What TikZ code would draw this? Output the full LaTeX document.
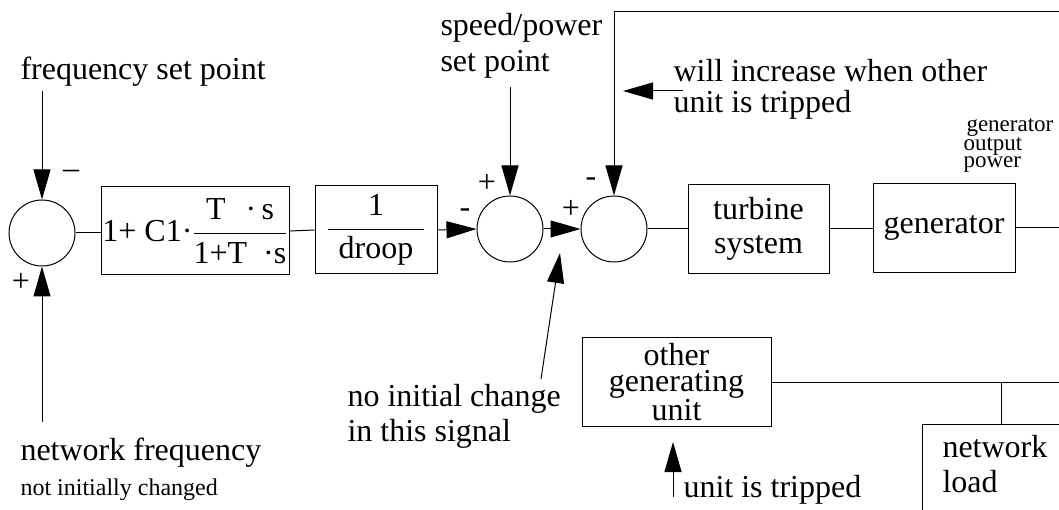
\RequirePackage{fix-cm}
\documentclass[tikz,border=0pt]{standalone}
\usepackage{fontspec}
\setmainfont{Liberation Serif}
\usepackage{tikz}
\usetikzlibrary{arrows.meta, positioning, calc}

\tikzset{
  blk/.style={draw, line width=1pt, minimum width=#1, minimum height=89pt, inner sep=0pt, align=center},
  blk/.default=141pt,
  sumpt/.style={draw, circle, line width=1pt, minimum size=66pt, inner sep=0pt},
  sig/.style={-{Triangle[length=30pt,width=17pt]}, line width=1pt},
  lbl/.style={anchor=base west, inner sep=0pt, align=left},
  sml/.style={anchor=base west, inner sep=0pt, align=left, font=\fontsize{23}{17.5}\selectfont},
}

\begin{document}
\begin{tikzpicture}[x=1pt, y=-1pt, line width=1pt, font=\fontsize{32}{36}\selectfont]
  \useasboundingbox (0,0) rectangle (1059,510);
  \clip (0,0) rectangle (1059,510);
  % Sommateurs
  \node[sumpt] (sum1) at (42,233) {};
  \node[sumpt] (sum2) at (510,229) {};
  \node[sumpt] (sum3) at (614,229) {};
  % Blocs
  \node[blk=188pt, minimum height=88pt] (lead) at (195,231)
    {1+ C1·$\displaystyle\frac{\mbox{T\hspace{20pt}·\,s}}{\mbox{1+T\hspace{16pt}·s}}$};
  \node[blk=122pt, minimum height=88pt] (droop) at (376,230)
    {$\displaystyle\frac{\mbox{1}}{\mbox{\hspace{11pt}droop\hspace{11pt}}}$};
  \node[blk, font=\fontsize{32}{34}\selectfont] (turb) at (758.5,229) {turbine\\system};
  \node[blk=142pt] (gen) at (944,228) {generator};
  \node[blk=189pt, font=\fontsize{32}{25.5}\selectfont] (other) at (676.5,382) {other\\generating\\unit};
  \node[draw, anchor=north west, minimum width=200pt, minimum height=120pt, inner sep=0pt] (load) at (922,424) {};
  % Textes (base = derniere ligne)
  \node[lbl] (fsp) at (20,80) {frequency set point};
  \node[lbl] (nf) at (20,460) {network frequency};
  \node[sml, font=\fontsize{24}{24}\selectfont] (nfc) at (20,495) {not initially changed};
  \node[lbl] (spsp) at (440,72) {speed/power\\set point};
  \node[lbl, font=\fontsize{32}{31}\selectfont] (wi) at (673,113) {will increase when other\\unit is tripped};
  \node[sml] (gop) at (963,168) {\hspace{3pt}generator\\output\\power};
  \node[lbl, font=\fontsize{32}{35}\selectfont] (nic) at (347,441) {no initial change\\in this signal};
  \node[lbl] (uit) at (683,497) {unit is tripped};
  \node[lbl, font=\fontsize{32}{35}\selectfont] (nl) at (942,492) {network\\load};
  % Signes
  \foreach \n/\x/\y/\s in {a/71/174/\textendash, b/21/282/+, c/487/183/+, d/465/213/-, e/571/209/+, f/591/182/-}{
    \node[inner sep=0pt] (sg\n) at (\x,\y) {\s};
  }
  % Extremites libres
  \coordinate (fspin) at (42,91);
  \coordinate (nfin) at (42,422);
  \coordinate (spin) at (510,87);
  \coordinate (fbin) at (1059,12);
  \coordinate (wiA) at (683,91);
  \coordinate (wiB) at (623,91);
  \coordinate (nicA) at (541,379);
  \coordinate (nicB) at (560,253);
  \coordinate (gout) at (1059,226);
  \coordinate (bus) at (1059,383);
  \coordinate (jn) at (1001,383);
  \coordinate (utA) at (673,497);
  \coordinate (utB) at (673,442);
  % Liaisons
  \draw[sig] (fspin) -- (sum1.north);
  \draw[sig] (nfin) -- (sum1.south);
  \draw (sum1.east) -- (sum1.east -| lead.west);
  \draw (lead.east) -- (droop.west);
  \draw[sig] (droop.east) -- (sum2.west);
  \draw[sig] (spin) -- (sum2.north);
  \draw[sig] (sum2.east) -- (sum3.west);
  \draw[sig] (fbin) -| (sum3.north);
  \draw (sum3.east) -- (turb.west);
  \draw (turb.east) -- (turb.east -| gen.west);
  \draw (gen.east) -- (gen.east -| gout);
  \draw[sig] (wiA) -- (wiB);
  \draw[sig] (nicA) -- (nicB);
  \draw (other.east) -- (other.east -| bus);
  \draw (jn |- other.east) -- (jn |- load.north);
  \draw[sig] (utA) -- (utB);
\end{tikzpicture}
\end{document}
